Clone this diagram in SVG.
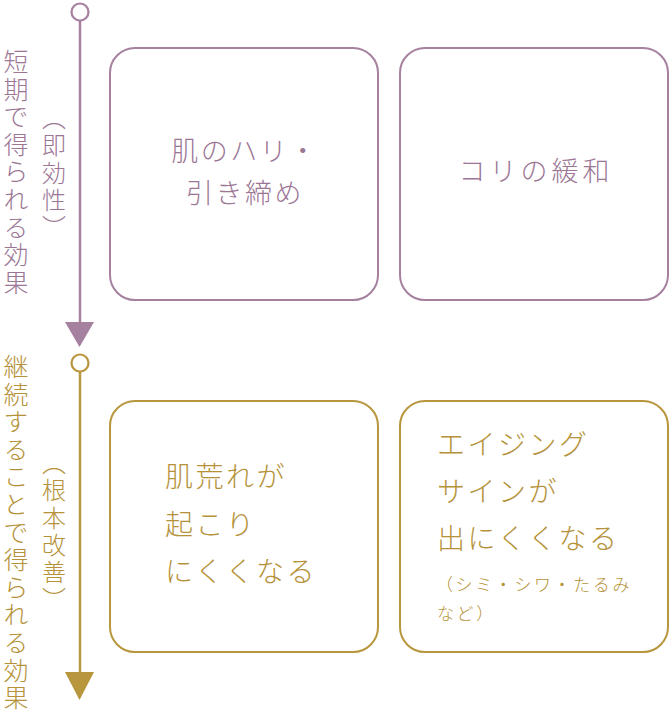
<svg xmlns="http://www.w3.org/2000/svg" width="669" height="714" viewBox="0 0 669 714">
<style>
text{font-family:"Noto Sans CJK JP","Noto Sans CJK SC",sans-serif;font-weight:300}
.p{fill:#9c7795}
.g{fill:#b5923a}
.bp{fill:#fff;stroke:#a5819f;stroke-width:2}
.bg{fill:#fff;stroke:#b8963e;stroke-width:2}
.v{writing-mode:vertical-rl;font-size:25px;letter-spacing:2.6px}
.vs{writing-mode:vertical-rl;font-size:24px;letter-spacing:3.2px}
.t{font-size:27px;letter-spacing:2.5px}
.tg{font-size:28px;letter-spacing:2.5px}
.s{font-size:17px;letter-spacing:2.6px}
</style>
<rect width="669" height="714" fill="#fff"/>
<g id="connectors">
<g id="timeline-short">
<line x1="80" y1="21" x2="80" y2="324" stroke="#a5819f" stroke-width="2.5"/>
<circle cx="80" cy="12" r="8.5" fill="#fff" stroke="#a5819f" stroke-width="2.2"/>
<polygon points="65,322 94,322 79.5,347" fill="#a5819f"/>
</g>
<g id="timeline-long">
<line x1="80" y1="372" x2="80" y2="674" stroke="#b8963e" stroke-width="2.5"/>
<circle cx="80" cy="363" r="8.5" fill="#fff" stroke="#b8963e" stroke-width="2.2"/>
<polygon points="65,672 94,672 79.5,700" fill="#b8963e"/>
</g>
</g>
<g id="label-short">
<text class="v p" x="16" y="49">短期で得られる効果</text>
<text class="vs p" x="54" y="106">（即効性）</text>
</g>
<g id="label-long">
<text class="v g" x="16" y="354">継続することで得られる効果</text>
<text class="vs g" x="54" y="451">（根本改善）</text>
</g>
<g id="node-hari">
<rect class="bp" x="110" y="48" width="268" height="252" rx="25"/>
<text class="t p" x="245" y="161" text-anchor="middle">肌のハリ・</text>
<text class="t p" x="245" y="203" text-anchor="middle">引き締め</text>
</g>
<g id="node-kori">
<rect class="bp" x="400" y="48" width="268" height="252" rx="25"/>
<text class="t p" x="536" y="181" text-anchor="middle" style="letter-spacing:4px">コリの緩和</text>
</g>
<g id="node-hadaare">
<rect class="bg" x="110" y="401" width="268" height="251" rx="25"/>
<text class="tg g" x="165" y="487">肌荒れが</text>
<text class="tg g" x="165" y="535">起こり</text>
<text class="tg g" x="165" y="582">にくくなる</text>
</g>
<g id="node-aging">
<rect class="bg" x="400" y="401" width="268" height="251" rx="25"/>
<text class="tg g" x="437" y="455">エイジング</text>
<text class="tg g" x="437" y="502">サインが</text>
<text class="tg g" x="437" y="549">出にくくなる</text>
<text class="s g" x="436" y="591">（シミ・シワ・たるみ</text>
<text class="s g" x="437" y="620">など）</text>
</g>
</svg>
